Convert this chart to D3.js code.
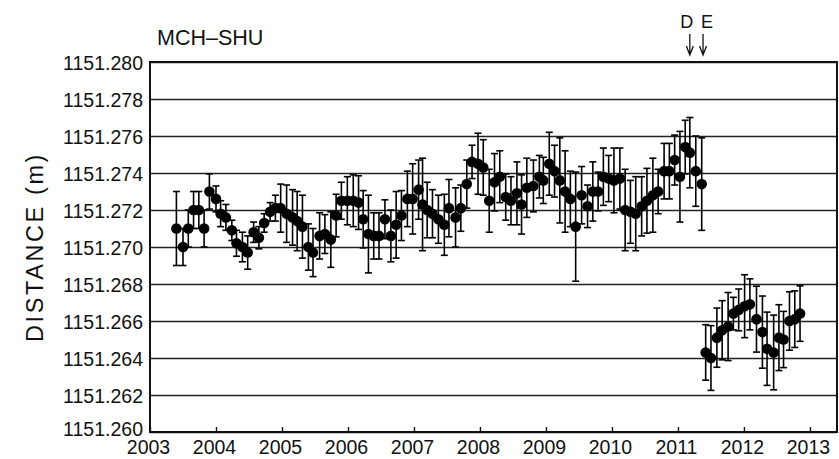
<!DOCTYPE html>
<html>
<head>
<meta charset="utf-8">
<script src="https://cdn.jsdelivr.net/npm/d3@7"></script>
<style>
  body { margin: 0; background: #fff; }
  svg { display: block; font-family: "Liberation Sans", Arial, sans-serif; }
</style>
</head>
<body>
<svg id="chart" width="839" height="459"></svg>
<script>
// Baseline MCH-SHU: distance time series (metres), with 1-sigma error bars (mm)
const title = "MCH–SHU";
const yLabel = "DISTANCE (m)";
const yTicks = [1151.260, 1151.262, 1151.264, 1151.266, 1151.268, 1151.270,
                1151.272, 1151.274, 1151.276, 1151.278, 1151.280];
const xTicks = [2003, 2004, 2005, 2006, 2007, 2008, 2009, 2010, 2011, 2012, 2013];

// Before the offset
const dates1 = [
  2003.40, 2003.50, 2003.58, 2003.66, 2003.74, 2003.82, 2003.90, 2004.00, 2004.07, 2004.15,
  2004.24, 2004.31, 2004.40, 2004.48, 2004.57, 2004.65, 2004.73, 2004.82, 2004.90, 2004.98,
  2005.07, 2005.16, 2005.23, 2005.31, 2005.40, 2005.47, 2005.57, 2005.65, 2005.74, 2005.82,
  2005.90, 2005.99, 2006.08, 2006.16, 2006.23, 2006.31, 2006.39, 2006.47, 2006.56, 2006.65,
  2006.73, 2006.81, 2006.90, 2006.98, 2007.07, 2007.13, 2007.20, 2007.28, 2007.37, 2007.46,
  2007.53, 2007.63, 2007.71, 2007.80, 2007.88, 2007.97, 2008.05, 2008.14, 2008.22, 2008.30,
  2008.39, 2008.47, 2008.56, 2008.63, 2008.71, 2008.81, 2008.90, 2008.96, 2009.05, 2009.13,
  2009.21, 2009.29, 2009.37, 2009.45, 2009.54, 2009.63, 2009.71, 2009.79, 2009.87, 2009.95,
  2010.03, 2010.12, 2010.20, 2010.28, 2010.36, 2010.45, 2010.53, 2010.62, 2010.70, 2010.79,
  2010.87, 2010.95, 2011.03, 2011.11, 2011.18, 2011.27, 2011.36
];
const values1 = [
  1151.2710, 1151.2700, 1151.2710, 1151.2720, 1151.2720, 1151.2710, 1151.2730, 1151.2726, 1151.2718, 1151.2716,
  1151.2709, 1151.2702, 1151.2700, 1151.2697, 1151.2708, 1151.2705, 1151.2713, 1151.2719, 1151.2721, 1151.2721,
  1151.2718, 1151.2716, 1151.2714, 1151.2711, 1151.2700, 1151.2697, 1151.2706, 1151.2707, 1151.2704, 1151.2717,
  1151.2725, 1151.2725, 1151.2725, 1151.2724, 1151.2715, 1151.2707, 1151.2706, 1151.2706, 1151.2715, 1151.2706,
  1151.2712, 1151.2717, 1151.2726, 1151.2726, 1151.2731, 1151.2723, 1151.2720, 1151.2718, 1151.2715, 1151.2712,
  1151.2721, 1151.2716, 1151.2721, 1151.2734, 1151.2746, 1151.2745, 1151.2743, 1151.2725, 1151.2735, 1151.2738,
  1151.2727, 1151.2725, 1151.2729, 1151.2723, 1151.2732, 1151.2733, 1151.2738, 1151.2736, 1151.2745, 1151.2741,
  1151.2736, 1151.2730, 1151.2726, 1151.2711, 1151.2728, 1151.2722, 1151.2730, 1151.2730, 1151.2738, 1151.2737,
  1151.2736, 1151.2737, 1151.2720, 1151.2719, 1151.2718, 1151.2722, 1151.2725, 1151.2728, 1151.2730, 1151.2741,
  1151.2741, 1151.2747, 1151.2738, 1151.2754, 1151.2751, 1151.2741, 1151.2734
];
const errors1 = [ // mm
  2.0, 1.0, 1.0, 1.0, 1.0, 1.0, 0.95, 0.7, 0.7, 0.7,
  0.55, 0.7, 0.8, 0.9, 0.55, 0.6, 0.5, 0.5, 0.7, 1.3,
  1.55, 1.5, 1.6, 1.7, 1.25, 1.3, 1.25, 1.05, 1.5, 1.15,
  1.0, 1.3, 1.4, 1.45, 1.55, 2.1, 1.25, 1.25, 1.05, 1.4,
  1.8, 1.35, 1.5, 1.9, 1.6, 2.5, 1.5, 1.3, 1.3, 1.65,
  1.55, 1.6, 1.25, 1.3, 0.9, 1.65, 1.5, 1.7, 1.55, 1.4,
  1.25, 1.3, 1.7, 1.6, 1.6, 1.4, 1.15, 1.25, 1.7, 1.4,
  2.3, 2.2, 1.5, 2.95, 1.55, 1.15, 1.6, 1.05, 1.55, 1.25,
  1.75, 1.65, 2.2, 1.7, 2.0, 1.6, 1.75, 2.0, 1.2, 1.5,
  1.5, 1.35, 2.45, 1.45, 1.9, 1.9, 2.5
];

// After the offset
const dates2 = [
  2011.42, 2011.50, 2011.59, 2011.67, 2011.76, 2011.84, 2011.92, 2012.01, 2012.09,
  2012.19, 2012.28, 2012.35, 2012.45, 2012.53, 2012.60, 2012.69, 2012.77, 2012.85
];
const values2 = [
  1151.2643, 1151.2640, 1151.2651, 1151.2655, 1151.2657, 1151.2664, 1151.2666, 1151.2668, 1151.2669,
  1151.2661, 1151.2654, 1151.2645, 1151.2643, 1151.2651, 1151.2650, 1151.2660, 1151.2661, 1151.2664
];
const errors2 = [
  1.5, 1.75, 1.6, 1.6, 1.84, 0.88, 1.13, 1.7, 1.38,
  1.78, 1.95, 1.98, 2.02, 1.78, 1.52, 1.58, 1.53, 1.5
];

// Event markers
const eventNames = ["D", "E"];
const eventDates = [2011.18, 2011.38];

const svg = d3.select("#chart");
const plotL = 150, plotR = 837, plotT = 62, plotB = 432;

const x = d3.scaleLinear().domain([2003, 2013.41]).range([plotL, plotR]);
const y = d3.scaleLinear().domain([1151.260, 1151.280]).range([plotB, plotT]);

// Horizontal gridlines + y tick labels
const yAxis = d3.axisLeft(y).tickValues(yTicks).tickFormat(d3.format(".3f"))
  .tickSize(-(plotR - plotL)).tickPadding(7);
const gy = svg.append("g").attr("transform", `translate(${plotL},0)`).call(yAxis);
gy.select(".domain").remove();
gy.selectAll(".tick line").attr("stroke", "#222").attr("stroke-width", 1.5);
gy.selectAll(".tick text").attr("font-size", 19.5).attr("fill", "#111")
  .attr("font-family", "Liberation Sans, Arial, sans-serif")
  .attr("dy", (d, i) => i === 0 ? "0.2em" : "0.36em");

// Bottom axis with short inward ticks
const xAxis = d3.axisBottom(x).tickValues(xTicks).tickFormat(d3.format("d"))
  .tickSize(-5).tickPadding(8);
const gx = svg.append("g").attr("transform", `translate(0,${plotB})`).call(xAxis);
gx.select(".domain").remove();
gx.selectAll(".tick line").attr("stroke", "#111").attr("stroke-width", 1.4);
gx.selectAll(".tick text").attr("font-size", 19.5).attr("fill", "#111")
  .attr("font-family", "Liberation Sans, Arial, sans-serif").attr("dy", "0.71em")
  .attr("dx", -2);

// Plot frame
svg.append("rect").attr("x", plotL).attr("y", plotT)
  .attr("width", plotR - plotL).attr("height", plotB - plotT)
  .attr("fill", "none").attr("stroke", "#111").attr("stroke-width", 2);

// Data points with error bars
const series = [
  dates1.map((d, i) => ({ t: d, v: values1[i], e: errors1[i] / 1000 })),
  dates2.map((d, i) => ({ t: d, v: values2[i], e: errors2[i] / 1000 }))
];
const capW = 3.5;
series.forEach(pts => {
  const g = svg.append("g");
  const bars = g.selectAll("g.bar").data(pts).join("g").attr("class", "bar")
    .attr("stroke", "#000").attr("stroke-width", 1.6);
  bars.append("line")
    .attr("x1", d => x(d.t)).attr("x2", d => x(d.t))
    .attr("y1", d => y(d.v + d.e)).attr("y2", d => y(d.v - d.e));
  bars.append("line")
    .attr("x1", d => x(d.t) - capW).attr("x2", d => x(d.t) + capW)
    .attr("y1", d => y(d.v + d.e)).attr("y2", d => y(d.v + d.e));
  bars.append("line")
    .attr("x1", d => x(d.t) - capW).attr("x2", d => x(d.t) + capW)
    .attr("y1", d => y(d.v - d.e)).attr("y2", d => y(d.v - d.e));
  g.selectAll("circle").data(pts).join("circle")
    .attr("cx", d => x(d.t)).attr("cy", d => y(d.v)).attr("r", 5.3)
    .attr("fill", "#000");
});

// Title
svg.append("text").attr("x", 157).attr("y", 45).attr("font-size", 21.5)
  .attr("fill", "#111").text(title);

// Y-axis label
svg.append("text")
  .attr("transform", `translate(43,247) rotate(-90)`)
  .attr("text-anchor", "middle").attr("font-size", 23.5).attr("letter-spacing", 2.6)
  .attr("fill", "#111")
  .text(yLabel);

// Event arrows
const ev = svg.append("g");
eventNames.forEach((name, i) => {
  const ex = x(eventDates[i]);
  ev.append("text").attr("x", ex + (i === 0 ? -3 : 4)).attr("y", 28)
    .attr("text-anchor", "middle").attr("font-size", 18).attr("fill", "#111").text(name);
  ev.append("path")
    .attr("d", `M${ex},34 V55 M${ex - 3.5},46 L${ex},55 L${ex + 3.5},46`)
    .attr("fill", "none").attr("stroke", "#111").attr("stroke-width", 1.3);
});
</script>
</body>
</html>
